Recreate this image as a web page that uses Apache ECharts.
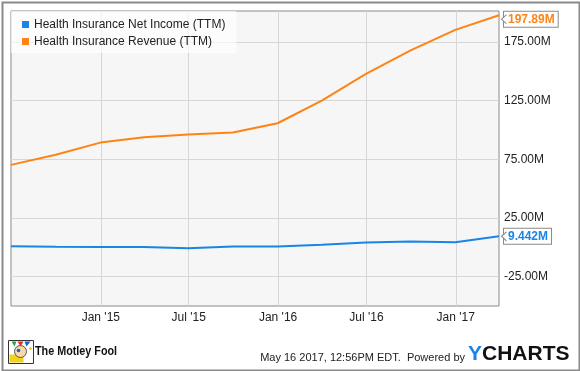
<!DOCTYPE html>
<html>
<head>
<meta charset="utf-8">
<script src="https://cdn.jsdelivr.net/npm/echarts@6/dist/echarts.min.js"></script>
<style>
html,body{margin:0;padding:0;background:#fff;}
#chart{width:580px;height:371px;}
</style>
</head>
<body>
<div id="chart"></div>
<script>
// ---- data ----
const dates = ['2014-06-30','2014-09-30','2014-12-31','2015-03-31','2015-06-30','2015-09-30','2015-12-31','2016-03-31','2016-06-30','2016-09-30','2016-12-31','2017-03-31'];
const netIncome = [1.0, 0.5, 0.2, 0.2, -0.7, 0.8, 0.8, 2.2, 4.1, 5.0, 4.4, 9.442];
const revenue = [70.3, 79.0, 89.3, 93.9, 96.2, 98.0, 105.8, 125.1, 147.9, 168.0, 185.4, 197.89];
const xTickDates = ['2015-01-01','2015-07-01','2016-01-01','2016-07-01','2017-01-01'];
const xTickLabels = ["Jan '15","Jul '15","Jan '16","Jul '16","Jan '17"];
const yTicks = [-25, 25, 75, 125, 175];
const seriesNames = ['Health Insurance Net Income (TTM)','Health Insurance Revenue (TTM)'];
const endLabels = ['9.442M','197.89M'];

const BLUE = '#1a85e6';
const ORANGE = '#fd8414';
const FONT = 'Liberation Sans, Arial, sans-serif';

const ts = d => new Date(d + 'T00:00:00Z').getTime();
const xTickTs = xTickDates.map(ts);
const lastIdx = dates.length - 1;

function pointer(val, dy) {
  return {
    symbol: 'path://M6,0 L0,5 L6,10',
    symbolSize: [5, 9],
    symbolOffset: [5, dy],
    itemStyle: {color: '#fff', borderColor: '#8a8a8a', borderWidth: 1},
    label: {show: false},
    silent: true,
    z: 10,
    data: [{coord: [ts(dates[lastIdx]), val]}]
  };
}

const chart = echarts.init(document.getElementById('chart'), null, {renderer:'canvas'});
const option = {
  animation: false,
  textStyle: {fontFamily: FONT},
  grid: {left: 11, right: 81, top: 11, bottom: 65, show: true, backgroundColor: '#f6f6f6', borderColor: '#8a8a8a', borderWidth: 1},
  legend: {
    orient: 'vertical', left: 11, top: 11,
    padding: [7, 11, 5, 11], itemGap: 4,
    itemWidth: 7, itemHeight: 7,
    backgroundColor: 'rgba(255,255,255,0.65)',
    textStyle: {fontSize: 12, color: '#222', fontFamily: FONT, lineHeight: 13},
    data: [{name: seriesNames[0], icon: 'rect'}, {name: seriesNames[1], icon: 'rect'}]
  },
  xAxis: {
    type: 'value',
    min: ts(dates[0]), max: ts(dates[lastIdx]),
    axisLine: {show: false},
    axisTick: {show: false, customValues: xTickTs},
    splitLine: {show: true, lineStyle: {color: '#d6d6d6', width: 1}},
    axisLabel: {
      customValues: xTickTs,
      fontSize: 12, color: '#222', margin: 6, fontFamily: FONT,
      formatter: function (v) {
        const i = xTickTs.indexOf(v);
        return i >= 0 ? xTickLabels[i] : '';
      }
    }
  },
  yAxis: {
    type: 'value', position: 'right',
    min: -50, max: 201.5,
    axisLine: {show: false},
    axisTick: {show: false, customValues: yTicks},
    splitLine: {show: true, lineStyle: {color: '#d6d6d6', width: 1}},
    axisLabel: {
      customValues: yTicks,
      fontSize: 12, color: '#222', margin: 5, fontFamily: FONT,
      formatter: v => v.toFixed(2) + 'M'
    }
  },
  series: [
    {
      name: seriesNames[0], type: 'line', color: BLUE,
      data: dates.map((d, i) => [ts(d), netIncome[i]]),
      showSymbol: false, lineStyle: {width: 2, color: BLUE},
      endLabel: {
        show: true, formatter: endLabels[0], color: BLUE, fontWeight: 'bold', fontSize: 12, fontFamily: FONT,
        backgroundColor: '#fff', borderColor: '#8a8a8a', borderWidth: 1, padding: [2, 3, 1, 4], distance: 5
      },
      markPoint: pointer(netIncome[lastIdx], 0)
    },
    {
      name: seriesNames[1], type: 'line', color: ORANGE,
      data: dates.map((d, i) => [ts(d), revenue[i]]),
      showSymbol: false, lineStyle: {width: 2, color: ORANGE},
      endLabel: {
        show: true, formatter: endLabels[1], color: ORANGE, fontWeight: 'bold', fontSize: 12, fontFamily: FONT,
        backgroundColor: '#fff', borderColor: '#8a8a8a', borderWidth: 1, padding: [2, 3, 1, 4], distance: 5, offset: [0, 4]
      },
      markPoint: pointer(revenue[lastIdx], 4)
    }
  ],
  graphic: [
    {type: 'rect', left: 0, top: 0, shape: {x: 1, y: 1, width: 577, height: 368}, style: {fill: 'none', stroke: '#8a8a8a', lineWidth: 2}, silent: true},
    // Motley Fool logo approximation
    {type: 'group', left: 8, top: 340, children: [
      {type: 'rect', shape: {x: 0, y: 0, width: 25, height: 23}, style: {fill: '#fff', stroke: '#333', lineWidth: 1}},
      {type: 'rect', shape: {x: 1, y: 14, width: 14, height: 8}, style: {fill: '#f2d21b'}},
      {type: 'circle', shape: {cx: 12, cy: 11, r: 6}, style: {fill: '#f5d9a8', stroke: '#333', lineWidth: 0.8}},
      {type: 'polygon', shape: {points: [[3,1],[8,1],[6,6]]}, style: {fill: '#2aa043'}},
      {type: 'polygon', shape: {points: [[9,1],[15,1],[12,6]]}, style: {fill: '#e0302a'}},
      {type: 'polygon', shape: {points: [[16,1],[22,1],[18,6]]}, style: {fill: '#1f5fbf'}},
      {type: 'circle', shape: {cx: 10, cy: 10, r: 1.8}, style: {fill: '#1f5fbf'}},
      {type: 'circle', shape: {cx: 22, cy: 8, r: 1.5}, style: {fill: '#f2d21b'}}
    ]},
    {type: 'text', x: 35, y: 345, scaleX: 0.83, style: {text: 'The Motley Fool', font: 'bold 13px ' + FONT, fill: '#111'}},
    {type: 'text', right: 115, top: 352, style: {text: 'May 16 2017, 12:56PM EDT.  Powered by', font: '11px ' + FONT, fill: '#222'}},
    {type: 'text', left: 468, top: 344, style: {text: 'Y', font: 'bold 21px ' + FONT, fill: '#1a85e6'}},
    {type: 'text', left: 482, top: 344, style: {text: 'CHARTS', font: 'bold 21px ' + FONT, fill: '#111'}}
  ]
};
chart.setOption(option);
</script>
</body>
</html>
